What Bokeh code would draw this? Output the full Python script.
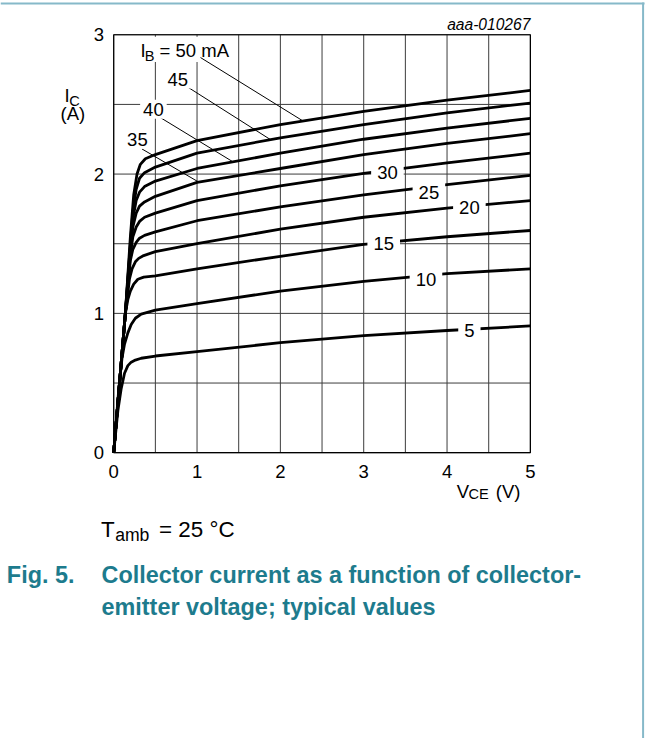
import numpy as np
from bokeh.plotting import figure
from bokeh.models import Range1d, Label
from bokeh.core.properties import value
from bokeh.embed import file_html
from bokeh.resources import INLINE

# ---------------- data ----------------
ib_ma = [5, 10, 15, 20, 25, 30, 35, 40, 45, 50]

vce_ib5 = [0, 0.05, 0.09, 0.13, 0.17, 0.21, 0.26, 0.33, 0.5, 1.0, 2.0, 3.0, 4.0, 5.0]
ic_ib5 = [0, 0.30, 0.46, 0.57, 0.625, 0.65, 0.665, 0.678, 0.694, 0.725, 0.79, 0.84, 0.877, 0.91]

vce_ib10 = [0, 0.06, 0.10, 0.13, 0.17, 0.21, 0.26, 0.33, 0.5, 1.0, 2.0, 3.0, 4.0, 5.0]
ic_ib10 = [0, 0.45, 0.68, 0.78, 0.86, 0.92, 0.965, 0.995, 1.023, 1.07, 1.16, 1.23, 1.285, 1.32]

vce_ib15 = [0, 0.07, 0.14, 0.17, 0.20, 0.24, 0.29, 0.36, 0.5, 1.0, 2.0, 3.0, 4.0, 5.0]
ic_ib15 = [0, 0.5, 1.0, 1.10, 1.16, 1.21, 1.245, 1.26, 1.27, 1.32, 1.41, 1.495, 1.55, 1.595]

vce_ib20 = [0, 0.07, 0.14, 0.19, 0.22, 0.26, 0.30, 0.36, 0.5, 1.0, 2.0, 3.0, 4.0, 5.0]
ic_ib20 = [0, 0.5, 1.0, 1.25, 1.32, 1.37, 1.395, 1.415, 1.443, 1.50, 1.605, 1.69, 1.755, 1.81]

vce_ib25 = [0, 0.07, 0.14, 0.20, 0.23, 0.27, 0.31, 0.37, 0.5, 1.0, 2.0, 3.0, 4.0, 5.0]
ic_ib25 = [0, 0.5, 1.0, 1.38, 1.46, 1.51, 1.54, 1.56, 1.585, 1.665, 1.765, 1.85, 1.925, 1.99]

vce_ib30 = [0, 0.07, 0.14, 0.20, 0.23, 0.27, 0.31, 0.37, 0.5, 1.0, 2.0, 3.0, 4.0, 5.0]
ic_ib30 = [0, 0.5, 1.0, 1.42, 1.55, 1.62, 1.66, 1.69, 1.72, 1.81, 1.915, 2.005, 2.08, 2.15]

vce_ib35 = [0, 0.07, 0.14, 0.20, 0.23, 0.27, 0.31, 0.37, 0.5, 1.0, 2.0, 3.0, 4.0, 5.0]
ic_ib35 = [0, 0.5, 1.0, 1.45, 1.62, 1.72, 1.77, 1.80, 1.84, 1.94, 2.04, 2.14, 2.22, 2.29]

vce_ib40 = [0, 0.07, 0.14, 0.20, 0.23, 0.27, 0.31, 0.37, 0.5, 1.0, 2.0, 3.0, 4.0, 5.0]
ic_ib40 = [0, 0.5, 1.0, 1.48, 1.68, 1.81, 1.87, 1.91, 1.95, 2.04, 2.15, 2.25, 2.33, 2.40]

vce_ib45 = [0, 0.07, 0.14, 0.20, 0.23, 0.27, 0.31, 0.37, 0.5, 1.0, 2.0, 3.0, 4.0, 5.0]
ic_ib45 = [0, 0.5, 1.0, 1.50, 1.73, 1.89, 1.97, 2.01, 2.05, 2.15, 2.26, 2.355, 2.44, 2.51]

vce_ib50 = [0, 0.07, 0.14, 0.20, 0.24, 0.28, 0.32, 0.38, 0.5, 1.0, 2.0, 3.0, 4.0, 5.0]
ic_ib50 = [0, 0.5, 1.0, 1.55, 1.85, 2.00, 2.07, 2.11, 2.14, 2.24, 2.355, 2.45, 2.53, 2.60]

x_ticks = [0, 1, 2, 3, 4, 5]
y_ticks = [0, 1, 2, 3]
x_grid = [0, 0.5, 1, 1.5, 2, 2.5, 3, 3.5, 4, 4.5, 5]
y_grid = [0, 0.5, 1, 1.5, 2, 2.5, 3]

curves = {
    5: (vce_ib5, ic_ib5), 10: (vce_ib10, ic_ib10), 15: (vce_ib15, ic_ib15),
    20: (vce_ib20, ic_ib20), 25: (vce_ib25, ic_ib25), 30: (vce_ib30, ic_ib30),
    35: (vce_ib35, ic_ib35), 40: (vce_ib40, ic_ib40), 45: (vce_ib45, ic_ib45),
    50: (vce_ib50, ic_ib50),
}

# ---------------- layout ----------------
FONT = "Liberation Sans"
W, H = 646, 738           # fits the 662x754 window with its 8px margin
REF_W, REF_H = 662, 754   # reference picture size
FS = W / REF_W            # font scale

# reference-pixel positions of the chart box: V=0..5 -> x 116..543, I=0..3 -> y 462..35
PX0, PX5, PY0, PY3 = 116.0, 543.0, 462.0, 35.0
SX = (PX5 - PX0) / 5.0
SY = (PY0 - PY3) / 3.0


def dx(px):
    return (px - PX0) / SX


def dy(py):
    return (PY0 - py) / SY


p = figure(width=W, height=H,
           x_range=Range1d(dx(0), dx(REF_W)), y_range=Range1d(dy(REF_H), dy(0)),
           x_axis_location=None, y_axis_location=None, title_location=None,
           min_border=0, output_backend="svg", toolbar_location=None)
p.outline_line_color = None
p.background_fill_color = "white"
p.border_fill_color = "white"
p.grid.visible = False

# page border (top and right)
BORDER = "#86b9c9"
p.segment(x0=[dx(0)], y0=[dy(3)], x1=[dx(660)], y1=[dy(3)], line_color=BORDER, line_width=2)
p.segment(x0=[dx(658.5)], y0=[dy(2)], x1=[dx(658.5)], y1=[dy(REF_H)], line_color=BORDER, line_width=2)

# grid every 0.5
GRID = "#3c3c3c"
p.segment(x0=x_grid, y0=[y_grid[0]] * len(x_grid), x1=x_grid, y1=[y_grid[-1]] * len(x_grid),
          line_color=GRID, line_width=1)
p.segment(x0=[x_grid[0]] * len(y_grid), y0=y_grid, x1=[x_grid[-1]] * len(y_grid), y1=y_grid,
          line_color=GRID, line_width=1)

# white box behind the "IB = 50 mA" label
p.rect(x=[dx(189)], y=[dy(50)], width=98 * FS, height=26 * FS,
       width_units="screen", height_units="screen", fill_color="white", line_color=None)

# curves
for ib in ib_ma:
    v, i = curves[ib]
    p.line(v, i, line_width=2.8, line_color="black", line_join="round")

# chart box
p.quad(left=[x_ticks[0]], right=[x_ticks[-1]], bottom=[y_ticks[0]], top=[y_ticks[-1]],
       fill_color=None, line_color="black", line_width=1.2)

# leader lines from the upper-left labels to their curves
leader_ib = [50, 45, 40, 35]
leader_start_px = [(205, 58.3), (190, 87.3), (163.3, 119.3), (145, 151.7)]
leader_end_v = [2.272, 1.882, 1.432, 1.021]
x0s = [dx(a) for a, b in leader_start_px]
y0s = [dy(b) for a, b in leader_start_px]
y1s = [float(np.interp(v, *curves[ib])) for v, ib in zip(leader_end_v, leader_ib)]
p.segment(x0=x0s, y0=y0s, x1=leader_end_v, y1=y1s, line_color="black", line_width=1)

# tick labels
TS = 19 * FS
p.text(x=x_ticks, y=[dy(481)] * len(x_ticks), text=[str(t) for t in x_ticks],
       text_font=value(FONT), text_font_size=value(f"{TS:.1f}px"),
       text_align="center", text_baseline="middle", text_color="black")
p.text(x=[dx(106)] * len(y_ticks), y=y_ticks, text=[str(t) for t in y_ticks],
       text_font=value(FONT), text_font_size=value(f"{TS:.1f}px"),
       text_align="right", text_baseline="middle", text_color="black")


def add_label(text, px, py, size=19, align="left", bg=False,
              style="normal", color="black", pad=4):
    """px, py: reference-pixel position of the text's horizontal anchor and
    the vertical centre of its capital letters."""
    kw = dict(x=dx(px), y=dy(py), text=text, text_font=FONT,
              text_font_size=f"{size * FS:.1f}px", text_align=align, text_baseline="middle",
              text_color=color, text_font_style=style)
    if bg:
        lab = Label(**kw, background_fill_color="white", padding=pad)
    else:
        lab = Label(**kw)
    p.add_layout(lab)


# curve labels on the right (white box breaks the curve)
curve_label_text = ["30", "25", "20", "15", "10", "5"]
curve_label_px = [(396.5, 175.5), (439, 195.7), (480.5, 211), (392.7, 248), (436, 284.7), (480.5, 337.5)]
for t, (a, b) in zip(curve_label_text, curve_label_px):
    add_label(t, a, b, align="center", bg=True, pad=6)

# curve labels upper left
ul_text = ["45", "40", "35"]
ul_px = [(181.7, 80.3), (156.7, 111), (140.3, 141.7)]
for t, (a, b) in zip(ul_text, ul_px):
    add_label(t, a, b, align="center", bg=True, pad=3)

add_label("I", 143.5, 51)
add_label("B", 147.8, 57, size=15)
add_label("= 50 mA", 163, 51)

# figure id
add_label("aaa-010267", 543, 24.3, size=16, align="right", style="italic")

# axis titles
add_label("I", 65.5, 97.5)
add_label("C", 70.5, 102.5, size=15)
add_label("(A)", 61.5, 115)

add_label("V", 467.5, 501.5)
add_label("CE", 479.5, 504.5, size=15)
add_label("(V)", 507.5, 501.5)

# conditions
add_label("T", 103, 540, size=23)
add_label("amb", 117.5, 546.5, size=18)
add_label("= 25 \u00b0C", 162.5, 540, size=23)

# caption
CAP = "#1d7b8d"
add_label("Fig. 5.", 6.5, 587.2, size=24, style="bold", color=CAP)
add_label("Collector current as a function of collector-", 103.5, 587.2, size=24,
          style="bold", color=CAP)
add_label("emitter voltage; typical values", 103.5, 619.3, size=24, style="bold", color=CAP)

open("out.html", "w").write(file_html(p, INLINE))
